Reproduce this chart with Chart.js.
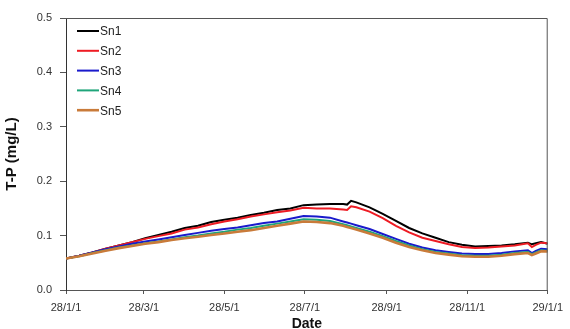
<!DOCTYPE html>
<html>
<head>
<meta charset="utf-8">
<script src="https://cdn.jsdelivr.net/npm/chart.js@4/dist/chart.umd.min.js"></script>
<style>
  html, body { margin: 0; padding: 0; background: #fff; }
  #wrap { width: 570px; height: 329px; position: relative; }
</style>
</head>
<body>
<div id="wrap"><canvas id="c" width="570" height="329"></canvas></div>
<script>
// Day of year (day 0 = 28/1/1) for each sample
const days = [0,10,20,30,40,50,60,70,80,90,100,110,120,130,140,150,160,170,180,190,200,210,213,216,220,230,240,250,260,270,280,290,300,310,320,330,340,350,353,356,360,365];

// T-P (mg/L) at each station
const sn1 = [0.058,0.063,0.069,0.076,0.082,0.088,0.095,0.101,0.107,0.114,0.118,0.125,0.129,0.133,0.138,0.142,0.147,0.150,0.156,0.157,0.158,0.158,0.157,0.164,0.161,0.152,0.140,0.127,0.114,0.104,0.096,0.088,0.083,0.080,0.081,0.082,0.084,0.087,0.084,0.086,0.088,0.085];
const sn2 = [0.058,0.063,0.069,0.076,0.082,0.088,0.094,0.099,0.104,0.111,0.115,0.121,0.126,0.130,0.135,0.139,0.143,0.146,0.151,0.150,0.150,0.148,0.147,0.154,0.152,0.144,0.132,0.118,0.106,0.096,0.090,0.084,0.079,0.077,0.078,0.080,0.082,0.086,0.079,0.083,0.087,0.086];
const sn3 = [0.058,0.063,0.069,0.075,0.080,0.085,0.089,0.093,0.097,0.101,0.105,0.109,0.112,0.115,0.119,0.123,0.126,0.131,0.136,0.135,0.133,0.126,0.124,0.122,0.119,0.112,0.103,0.094,0.085,0.078,0.073,0.070,0.067,0.066,0.066,0.068,0.071,0.073,0.068,0.072,0.076,0.075];
const sn4 = [0.058,0.062,0.068,0.073,0.078,0.082,0.086,0.089,0.093,0.097,0.100,0.104,0.107,0.111,0.114,0.118,0.122,0.126,0.130,0.129,0.127,0.121,0.119,0.117,0.114,0.107,0.099,0.090,0.082,0.075,0.070,0.067,0.064,0.063,0.063,0.065,0.068,0.070,0.066,0.069,0.073,0.072];
const sn5 = [0.058,0.062,0.067,0.072,0.077,0.081,0.085,0.088,0.092,0.095,0.098,0.101,0.104,0.107,0.110,0.114,0.118,0.122,0.126,0.125,0.123,0.118,0.116,0.114,0.111,0.104,0.096,0.087,0.079,0.073,0.068,0.065,0.062,0.061,0.061,0.063,0.066,0.068,0.064,0.067,0.071,0.071];

const seriesNames = ['Sn1','Sn2','Sn3','Sn4','Sn5'];
const seriesValues = [sn1, sn2, sn3, sn4, sn5];
const seriesColors = ['#000000','#ee1c24','#1a1acc','#1fa57a','#c97b3a'];
const seriesWidths = [2, 2, 2, 2, 2.6];

// x-axis ticks: first of every other month
const tickDays = [0, 59, 120, 181, 243, 304, 365];
const tickLabels = ['28/1/1','28/3/1','28/5/1','28/7/1','28/9/1','28/11/1','29/1/1'];

const FONT = '"Liberation Sans", Arial, sans-serif';

const datasets = seriesNames.map((name, i) => ({
  label: name,
  data: days.map((d, j) => ({ x: d, y: seriesValues[i][j] })),
  borderColor: seriesColors[i],
  backgroundColor: seriesColors[i],
  borderWidth: seriesWidths[i],
  pointRadius: 0,
  tension: 0,
  order: seriesNames.length - i
}));

// frame around the plot area plus an in-plot legend
const framePlugin = {
  id: 'frame',
  afterDatasetsDraw(chart) {
    const { ctx, chartArea: a } = chart;
    ctx.save();
    ctx.strokeStyle = '#555';
    ctx.lineWidth = 1;
    ctx.beginPath();
    ctx.moveTo(a.left, a.top + 0.5);
    ctx.lineTo(a.right - 0.5, a.top + 0.5);
    ctx.lineTo(a.right - 0.5, a.bottom);
    ctx.stroke();

    const x0 = a.left + 11, len = 22, rowH = 19.8, y0 = a.top + 13;
    ctx.font = '12px ' + FONT;
    ctx.textBaseline = 'middle';
    chart.data.datasets.forEach((ds, i) => {
      const y = y0 + i * rowH;
      ctx.strokeStyle = ds.borderColor;
      ctx.lineWidth = ds.borderWidth;
      ctx.beginPath();
      ctx.moveTo(x0, y);
      ctx.lineTo(x0 + len, y);
      ctx.stroke();
      ctx.fillStyle = '#222';
      ctx.fillText(ds.label, x0 + len + 1, y + 1);
    });
    ctx.restore();
  }
};

new Chart(document.getElementById('c'), {
  type: 'line',
  data: { datasets },
  plugins: [framePlugin],
  options: {
    responsive: false,
    animation: false,
    events: [],
    layout: { padding: { left: 0, right: 17, top: 18, bottom: 0 } },
    plugins: { legend: { display: false }, tooltip: { enabled: false } },
    scales: {
      x: {
        type: 'linear',
        min: 0,
        max: 365,
        afterBuildTicks(scale) { scale.ticks = tickDays.map(v => ({ value: v })); },
        afterFit(scale) { scale.height = 39; },
        ticks: {
          autoSkip: false,
          maxRotation: 0,
          padding: 7,
          color: '#333',
          font: { family: FONT, size: 11 },
          callback(value) { const k = tickDays.indexOf(value); return k >= 0 ? tickLabels[k] : ''; }
        },
        grid: { display: true, drawOnChartArea: false, drawTicks: true, tickLength: 4, color: '#555' },
        border: { display: true, color: '#555', width: 1 },
        title: { display: true, text: 'Date', color: '#111', font: { family: FONT, size: 14, weight: 'bold', lineHeight: 1 }, padding: { top: 0, bottom: -2.5 } }
      },
      y: {
        min: 0,
        max: 0.5,
        afterBuildTicks(scale) { scale.ticks = [0, 0.1, 0.2, 0.3, 0.4, 0.5].map(v => ({ value: v })); },
        afterFit(scale) { scale.width = 66; },
        ticks: {
          padding: 8,
          color: '#333',
          font: { family: FONT, size: 11 },
          callback(value) { return value.toFixed(1); }
        },
        grid: { display: true, drawOnChartArea: false, drawTicks: true, tickLength: 6, color: '#555' },
        border: { display: true, color: '#333', width: 1 },
        title: { display: true, text: 'T-P (mg/L)', color: '#111', font: { family: FONT, size: 15, weight: 'bold' }, padding: { top: 3, bottom: 0 } }
      }
    }
  }
});
</script>
</body>
</html>
